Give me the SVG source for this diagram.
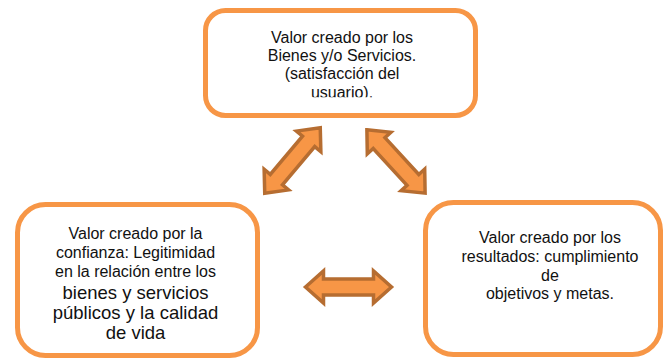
<svg xmlns="http://www.w3.org/2000/svg" width="665" height="358" viewBox="0 0 665 358">
<style>
.box{fill:#fff;stroke:#F79646;stroke-width:5}
.t{font-family:"Liberation Sans",Arial,sans-serif;font-size:16px;fill:#111;text-anchor:middle}
.big{font-size:18.5px}
.arr{fill:#F79646;stroke:#B66D31;stroke-width:3.5;stroke-linejoin:miter}
</style>
<defs>
<path id="dbl" d="M-43,0 L-25,-16 L-25,-8 L25,-8 L25,-16 L43,0 L25,16 L25,8 L-25,8 L-25,16 Z"/>
<clipPath id="clipTop"><rect x="200" y="0" width="290" height="97.2"/></clipPath>
</defs>
<rect width="665" height="358" fill="#fff"/>
<g id="node-bienes">
<rect class="box" x="205.5" y="10.5" width="270" height="105" rx="20"/>
<g clip-path="url(#clipTop)">
<text class="t" x="342" y="43">Valor creado por los</text>
<text class="t" x="342" y="61">Bienes y/o Servicios.</text>
<text class="t" x="342" y="79">(satisfacción del</text>
<text class="t" x="342" y="97.5">usuario).</text>
</g>
</g>
<g id="node-confianza">
<rect class="box" x="17.5" y="204.5" width="240" height="151" rx="28"/>
<text class="t" x="135.5" y="238.5">Valor creado por la</text>
<text class="t" x="135.5" y="257.5">confianza: Legitimidad</text>
<text class="t" x="135.5" y="276.5">en la relación entre los</text>
<text class="t big" x="135.5" y="298.5">bienes y servicios</text>
<text class="t big" x="135.5" y="318.5">públicos y la calidad</text>
<text class="t big" x="135.5" y="338.5">de vida</text>
</g>
<g id="node-resultados">
<rect class="box" x="425.5" y="202.5" width="235" height="152" rx="28"/>
<text class="t" x="550" y="243">Valor creado por los</text>
<text class="t" x="550" y="262">resultados: cumplimiento</text>
<text class="t" x="550" y="280.5">de</text>
<text class="t" x="550" y="299">objetivos y metas.</text>
</g>
<g id="connectors">
<use href="#dbl" class="arr" transform="translate(292.5,160.5) rotate(-49.8)"/>
<use href="#dbl" class="arr" transform="translate(396,161.5) rotate(47.4)"/>
<use href="#dbl" class="arr" transform="translate(348.5,287)"/>
</g>
</svg>
